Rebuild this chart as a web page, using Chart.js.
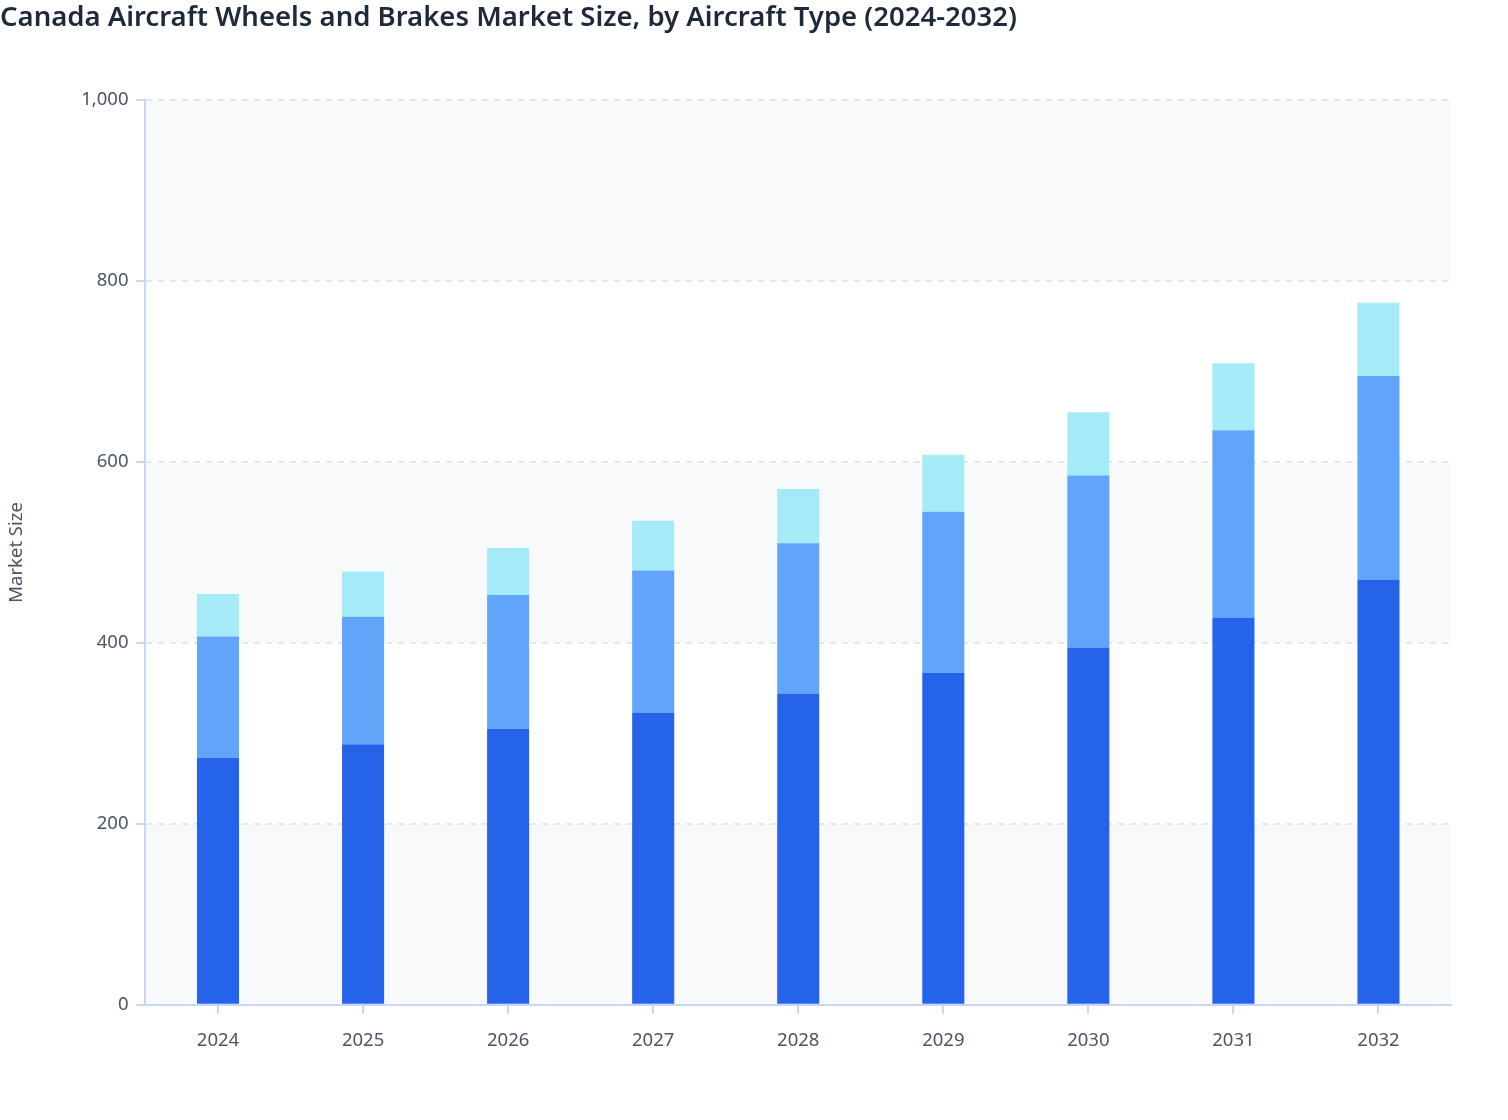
<!DOCTYPE html>
<html>
<head>
<meta charset="utf-8">
<script src="https://cdn.jsdelivr.net/npm/chart.js@4.4.1/dist/chart.umd.min.js"></script>
<style>
	html, body { margin: 0; padding: 0; background: #ffffff; }
	#wrap { width: 1508px; height: 1120px; position: relative; }
</style>
</head>
<body>
<div id="wrap"><canvas id="marketChart"></canvas></div>
<script>
// values
var years = ['2024', '2025', '2026', '2027', '2028', '2029', '2030', '2031', '2032'];
var seriesA = [273, 288, 305, 323, 344, 367, 395, 428, 470];
var seriesB = [134, 141, 148, 157, 166, 178, 190, 207, 225];
var seriesC = [47, 50, 52, 55, 60, 63, 70, 74, 81];
var seriesLabels = ['Fixed Wing', 'Rotary Wing', 'Other'];
var colors = ['#2563eb', '#60a5fa', '#a5eaf7'];

// alternate shading between y grid lines
var bandPlugin = {
	id: 'bands',
	beforeDraw: function(chart) {
		let ctx = chart.ctx;
		let area = chart.chartArea;
		let y = chart.scales.y;
		ctx.save();
		for (let i = 0; i < y.ticks.length - 1; i++) {
			if (i % 2 !== 0) continue;
			let top = y.getPixelForValue(y.ticks[i + 1].value);
			let bottom = y.getPixelForValue(y.ticks[i].value);
			ctx.fillStyle = '#f8f9fb';
			ctx.fillRect(area.left, top, area.right - area.left, bottom - top);
		}
		ctx.restore();
	}
};

let datasets = [seriesA, seriesB, seriesC].map(function(d, i) {
	return {
		label: seriesLabels[i],
		data: d,
		backgroundColor: colors[i],
		borderWidth: 0,
		barPercentage: 0.29,
		categoryPercentage: 1.0
	};
});

const config = {
	type: 'bar',
	data: {
		labels: years,
		datasets: datasets
	},
	options: {
		responsive: true,
		maintainAspectRatio: false,
		animation: false,
		layout: {
			padding: { left: 0, right: 57, top: 0, bottom: 52 }
		},
		scales: {
			x: {
				stacked: true,
				grid: {
					display: true,
					offset: false,
					drawOnChartArea: false,
					drawTicks: true,
					tickLength: 9,
					color: '#c7d7f5',
					lineWidth: 2
				},
				border: { color: '#c7d7f5', width: 2 },
				ticks: {
					color: '#4b5563',
					padding: 16,
					font: { family: 'Noto Sans', size: 18.5 }
				}
			},
			y: {
				stacked: true,
				min: 0,
				max: 1000,
				ticks: {
					stepSize: 200,
					color: '#4b5563',
					padding: 8,
					font: { family: 'Noto Sans', size: 18.5 },
					callback: function(v) { return v.toLocaleString('en-US'); }
				},
				grid: {
					color: '#e2e8f0',
					lineWidth: 2,
					tickLength: 9,
					tickColor: '#c7d7f5'
				},
				border: { color: '#c7d7f5', width: 2, dash: [6, 6] },
				title: {
					display: true,
					text: 'Market Size',
					color: '#4b5563',
					font: { family: 'Noto Sans', size: 18.5 },
					padding: { top: 6, bottom: 45 }
				}
			}
		},
		plugins: {
			legend: { display: false },
			tooltip: { enabled: false },
			title: {
				display: true,
				text: 'Canada Aircraft Wheels and Brakes Market Size, by Aircraft Type (2024-2032)',
				align: 'start',
				color: '#1e293b',
				font: { family: 'Noto Sans', size: 27.5, weight: '600' },
				padding: { top: 2, bottom: 65 }
			}
		}
	},
	plugins: [bandPlugin]
};

var marketChart = new Chart(document.getElementById('marketChart'), config);
</script>
</body>
</html>
